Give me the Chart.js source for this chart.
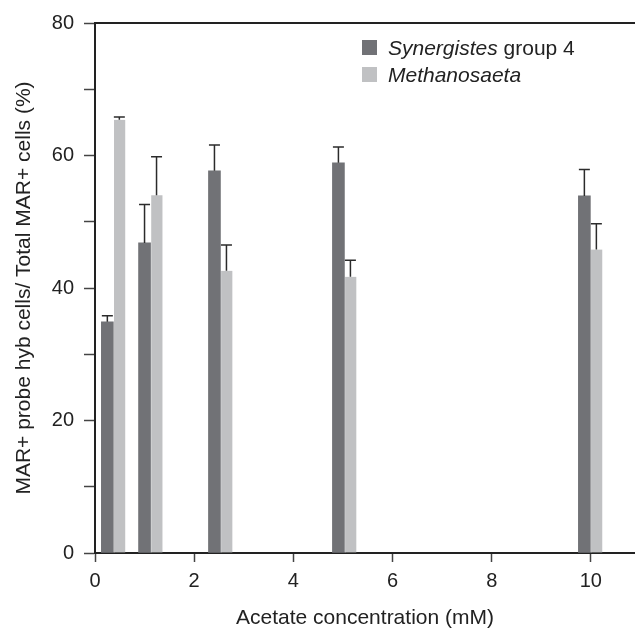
<!DOCTYPE html>
<html>
<head>
<meta charset="utf-8">
<script src="https://cdn.jsdelivr.net/npm/chart.js@4"></script>
<style>
  html, body { margin: 0; padding: 0; background: #fff; overflow: hidden; }
  #wrap { position: relative; width: 635px; height: 632px; }
  #legend { position: absolute; left: 362px; top: 34px; font-family: "Liberation Sans", Arial, sans-serif; font-size: 21px; color: #222; }
  #legend .row { display: flex; align-items: center; height: 27px; }
  #legend .box { width: 15px; height: 15px; margin-right: 11px; }
</style>
</head>
<body>
<div id="wrap">
  <canvas id="acetateChart"></canvas>
  <div id="legend"></div>
</div>
<script>
// acetate concentration (mM) for each pair of bars
var concentrations = [0.37, 1.12, 2.53, 5.03, 9.99];

// % of MAR+ cells hybridising with each probe
var synergistesValues = [34.9, 46.8, 57.7, 58.9, 53.9];
var synergistesErrors = [0.9, 5.8, 3.9, 2.4, 4.0];
var methanosaetaValues = [65.4, 54.0, 42.6, 41.7, 45.8];
var methanosaetaErrors = [0.4, 5.8, 3.9, 2.5, 3.9];

var seriesNames = ['Synergistes', 'Methanosaeta'];
var seriesSuffix = [' group 4', ''];
var seriesColors = ['#717276', '#c0c1c3'];

var yTicks = [0, 20, 40, 60, 80];

var font = 'Liberation Sans, Arial, sans-serif';

function toPoints(values) {
    return values.map(function (v, i) { return { x: concentrations[i], y: v }; });
}

// error bars, upper side only
var errorBars = {
    id: 'errorBars',
    afterDatasetsDraw: function (chart) {
        var ctx = chart.ctx;
        var yScale = chart.scales.y;
        ctx.save();
        ctx.strokeStyle = '#2b2b2b';
        ctx.lineWidth = 1.5;
        chart.data.datasets.forEach(function (ds, d) {
            var meta = chart.getDatasetMeta(d);
            meta.data.forEach(function (bar, i) {
                var top = yScale.getPixelForValue(ds.data[i].y + ds.errors[i]);
                ctx.beginPath();
                ctx.moveTo(bar.x, bar.y);
                ctx.lineTo(bar.x, top);
                ctx.moveTo(bar.x - 5.5, top);
                ctx.lineTo(bar.x + 5.5, top);
                ctx.stroke();
            });
        });
        ctx.restore();
    }
};

// frame line along the top of the plot
var topFrame = {
    id: 'topFrame',
    afterDraw: function (chart) {
        var a = chart.chartArea;
        var ctx = chart.ctx;
        ctx.save();
        ctx.strokeStyle = '#222';
        ctx.lineWidth = 2;
        ctx.beginPath();
        ctx.moveTo(a.left - 1, a.top);
        ctx.lineTo(a.right, a.top);
        ctx.stroke();
        ctx.restore();
    }
};

var chart = new Chart(document.getElementById('acetateChart').getContext('2d'), {
    type: 'bar',
    data: {
        datasets: [
            {
                label: seriesNames[0] + seriesSuffix[0],
                data: toPoints(synergistesValues),
                errors: synergistesErrors,
                backgroundColor: seriesColors[0],
                borderWidth: 0
            },
            {
                label: seriesNames[1] + seriesSuffix[1],
                data: toPoints(methanosaetaValues),
                errors: methanosaetaErrors,
                backgroundColor: seriesColors[1],
                borderColor: '#ffffff',
                borderWidth: { left: 1, right: 0, top: 0, bottom: 0 }
            }
        ]
    },
    options: {
        responsive: true,
        maintainAspectRatio: false,
        animation: false,
        barThickness: 12,
        layout: { padding: { top: 23, right: 0, left: 0, bottom: 0 } },
        plugins: {
            legend: { display: false },
            tooltip: { enabled: false }
        },
        scales: {
            x: {
                type: 'linear',
                min: 0,
                max: 10.89,
                offset: false,
                afterFit: function (scale) { scale.height = 79; },
                ticks: {
                    stepSize: 2,
                    includeBounds: false,
                    font: { family: font, size: 20 },
                    color: '#222',
                    padding: 7,
                    maxRotation: 0
                },
                grid: { offset: false, drawOnChartArea: false, tickLength: 9, tickColor: '#444', tickWidth: 1.5 },
                border: { display: true, color: '#222', width: 2 },
                title: {
                    display: true,
                    text: 'Acetate concentration (mM)',
                    font: { family: font, size: 21 },
                    color: '#222',
                    padding: { top: 0, bottom: 1 }
                }
            },
            y: {
                min: 0,
                max: 80,
                afterFit: function (scale) { scale.width = 95; },
                ticks: {
                    stepSize: 10,
                    font: { family: font, size: 20 },
                    color: '#222',
                    padding: 10,
                    callback: function (v) { return yTicks.indexOf(v) >= 0 ? v : ''; }
                },
                grid: { drawOnChartArea: false, tickLength: 11, tickColor: '#444', tickWidth: 1.5 },
                border: { display: true, color: '#222', width: 2 },
                title: {
                    display: true,
                    text: 'MAR+ probe hyb cells/ Total MAR+ cells (%)',
                    font: { family: font, size: 21 },
                    color: '#222',
                    padding: { top: 12, bottom: 0 }
                }
            }
        }
    },
    plugins: [errorBars, topFrame]
});

// legend as HTML so the genus names can be italic
var legendEl = document.getElementById('legend');
chart.data.datasets.forEach(function (ds, i) {
    var row = document.createElement('div');
    row.className = 'row';
    row.innerHTML = '<span class="box" style="background:' + seriesColors[i] + '"></span>' +
        '<span><i>' + seriesNames[i] + '</i>' + seriesSuffix[i] + '</span>';
    legendEl.appendChild(row);
});
</script>
</body>
</html>
